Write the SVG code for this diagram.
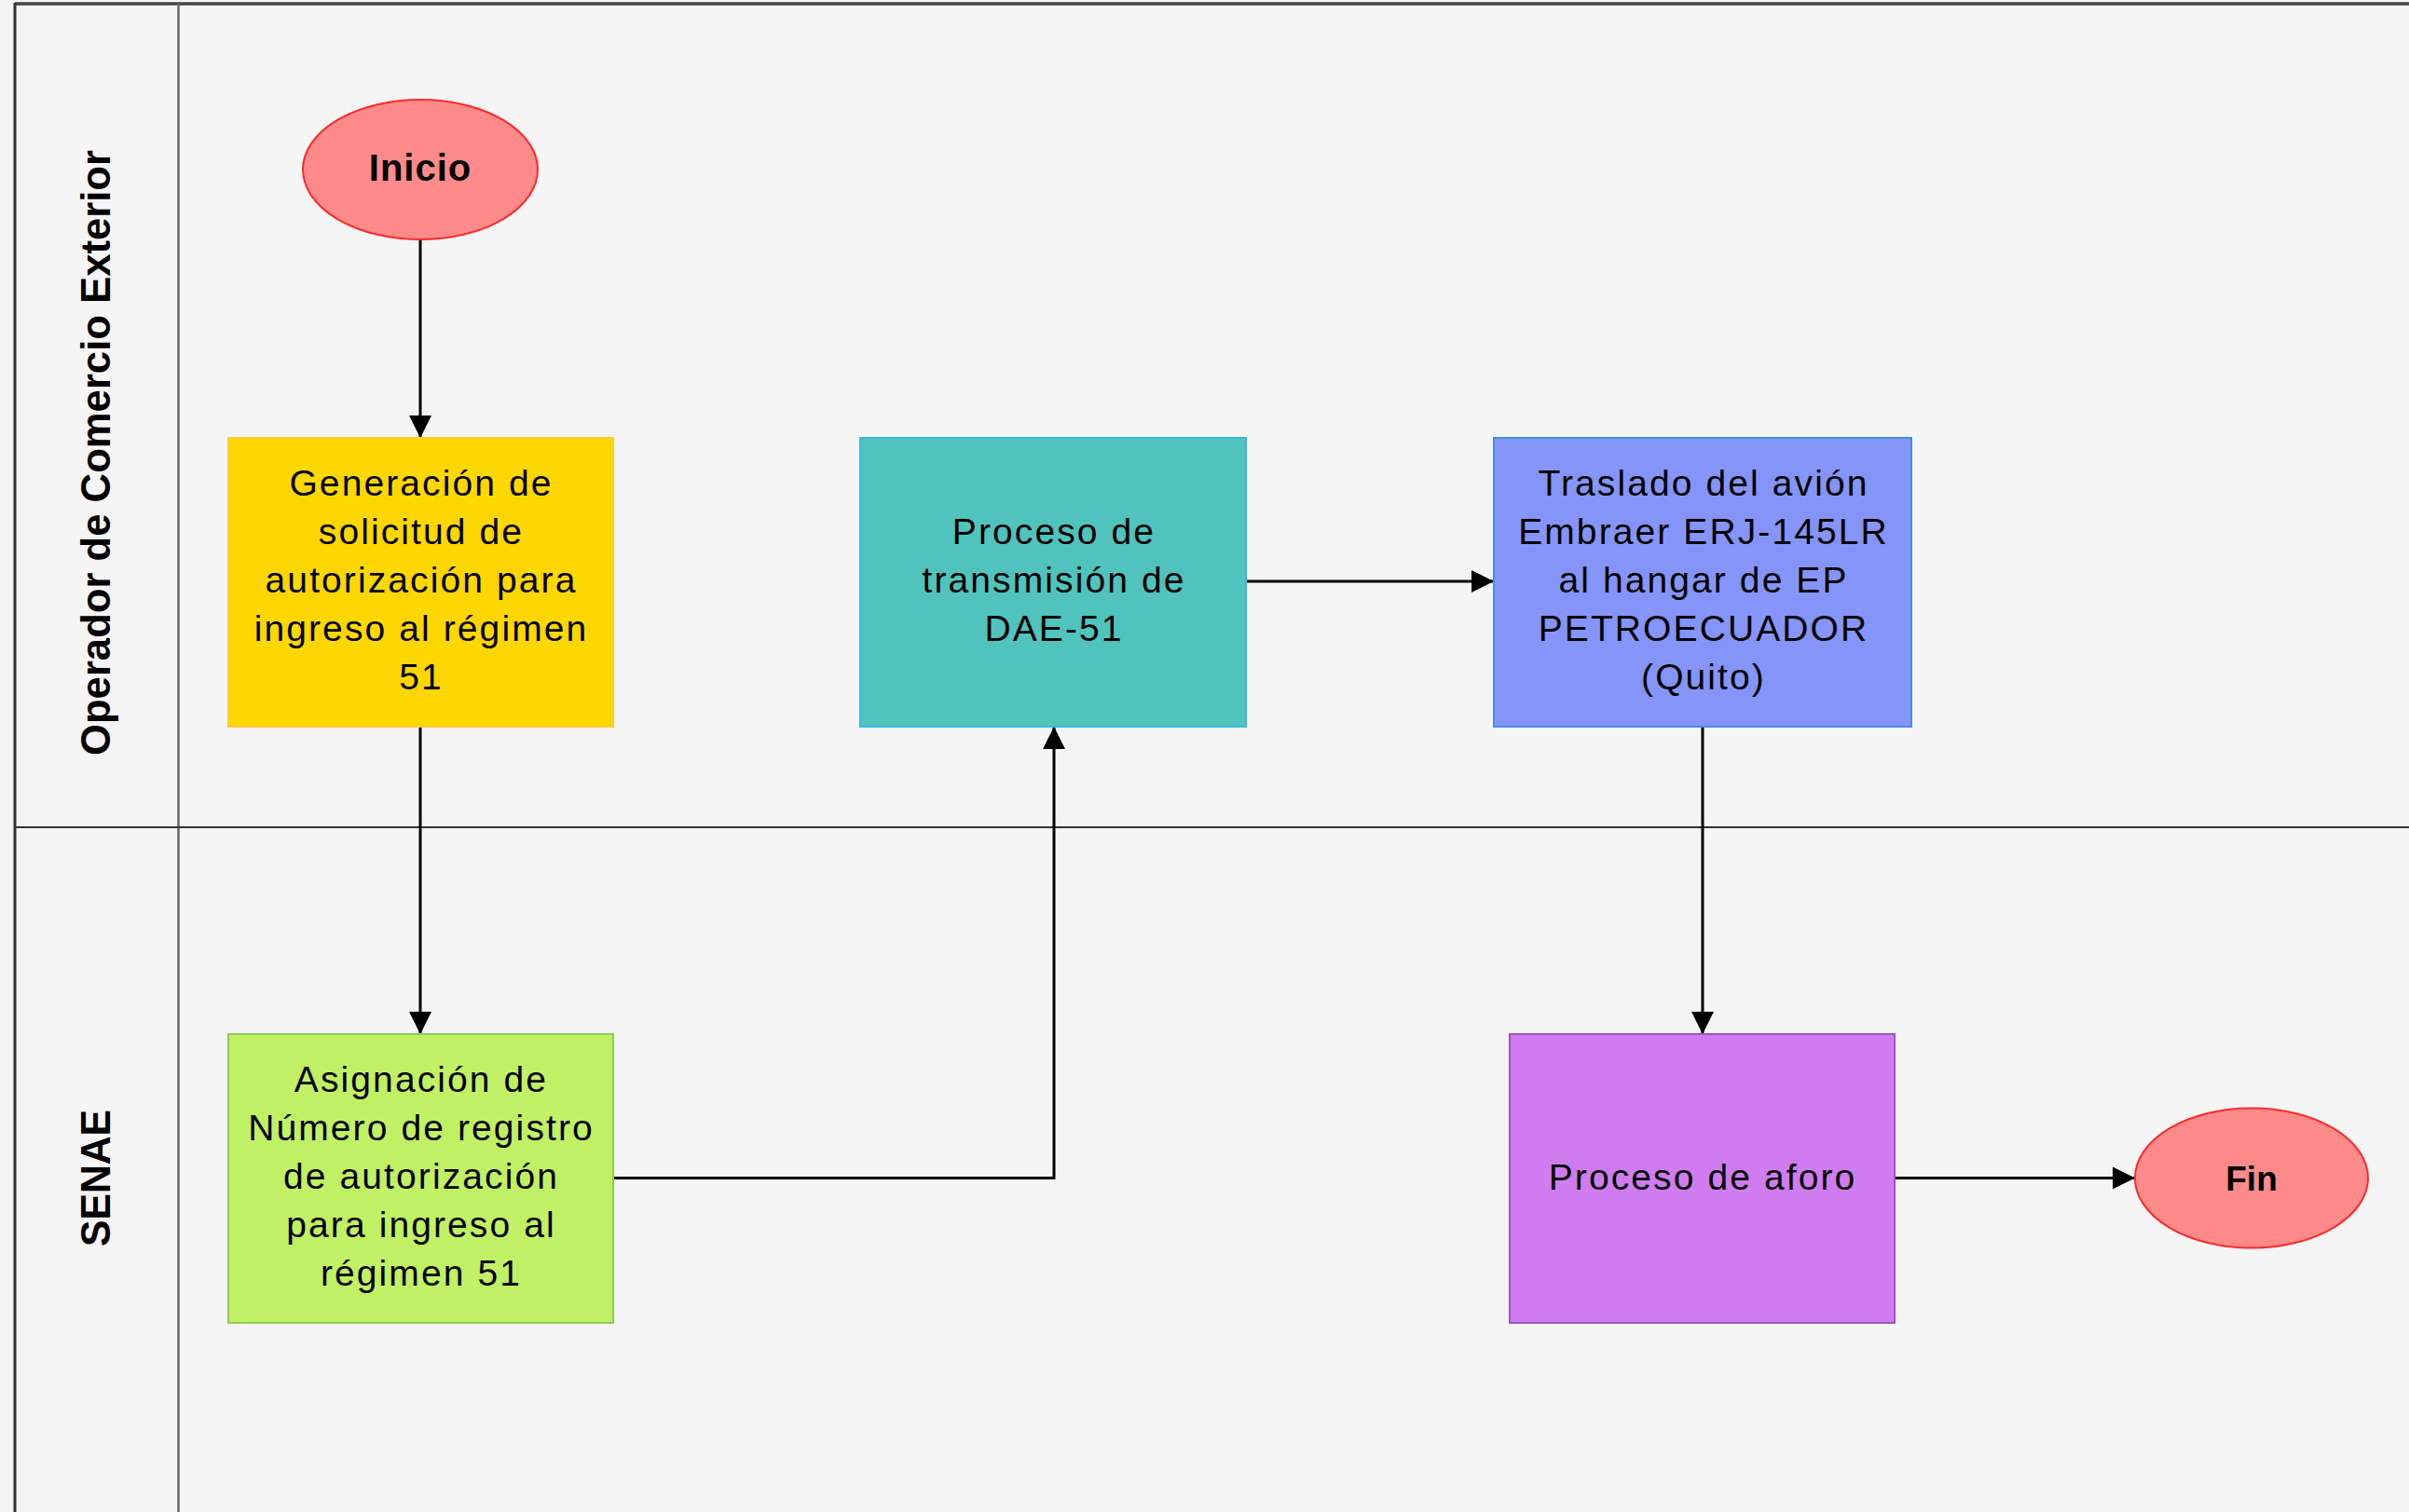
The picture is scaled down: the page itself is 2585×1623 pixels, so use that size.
<svg xmlns="http://www.w3.org/2000/svg" width="2585" height="1623" viewBox="0 0 2585 1623">
  <style>
    .t { font-family: "Liberation Sans", Arial, sans-serif; font-size: 39px; letter-spacing: 2.1px; fill: #000; text-anchor: middle; }
    .b { font-family: "Liberation Sans", Arial, sans-serif; font-weight: bold; fill: #000; text-anchor: middle; }
    .lane { font-family: "Liberation Sans", Arial, sans-serif; font-weight: bold; font-size: 45px; fill: #000; text-anchor: middle; }
    .c { fill: none; stroke: #000; stroke-width: 3; }
  </style>
  <defs>
    <marker id="arr" markerUnits="userSpaceOnUse" markerWidth="26" markerHeight="24" refX="24" refY="12" orient="auto">
      <path d="M0,0 L24,12 L0,24 Z" fill="#000"/>
    </marker>
  </defs>

  <rect x="0" y="0" width="2585" height="1623" fill="#f5f5f5"/>

  <g id="lanes">
    <line x1="16" y1="4" x2="2585" y2="4" stroke="#444" stroke-width="3.5"/>
    <line x1="16" y1="3" x2="16" y2="1623" stroke="#333" stroke-width="3"/>
    <line x1="191.5" y1="4" x2="191.5" y2="1623" stroke="#666" stroke-width="2.5"/>
    <line x1="16" y1="888" x2="2585" y2="888" stroke="#333" stroke-width="1.8"/>
    <text class="lane" transform="translate(118,486) rotate(-90)" textLength="650" lengthAdjust="spacingAndGlyphs">Operador de Comercio Exterior</text>
    <text class="lane" transform="translate(118,1264.5) rotate(-90)" textLength="147" lengthAdjust="spacingAndGlyphs">SENAE</text>
  </g>

  <g id="connectors">
    <line class="c" x1="451" y1="257" x2="451" y2="470" marker-end="url(#arr)"/>
    <line class="c" x1="451" y1="780" x2="451" y2="1110" marker-end="url(#arr)"/>
    <polyline class="c" points="658,1264.5 1131,1264.5 1131,780" marker-end="url(#arr)"/>
    <line class="c" x1="1337" y1="624" x2="1603" y2="624" marker-end="url(#arr)"/>
    <line class="c" x1="1827" y1="780" x2="1827" y2="1110" marker-end="url(#arr)"/>
    <line class="c" x1="2033" y1="1264.5" x2="2291" y2="1264.5" marker-end="url(#arr)"/>
  </g>

  <g id="inicio">
    <ellipse cx="451" cy="182" rx="126" ry="75" fill="#ff8a8a" stroke="#ff2a2a" stroke-width="2"/>
    <text class="b" x="451" y="194" font-size="40" letter-spacing="1">Inicio</text>
  </g>

  <g id="generacion">
    <rect x="245" y="470" width="413" height="310" fill="#ffd700" stroke="#ffcc33" stroke-width="2"/>
    <text class="t" x="452" y="532">Generación de</text>
    <text class="t" x="452" y="584">solicitud de</text>
    <text class="t" x="452" y="636">autorización para</text>
    <text class="t" x="452" y="688">ingreso al régimen</text>
    <text class="t" x="452" y="740">51</text>
  </g>

  <g id="transmision">
    <rect x="923" y="470" width="414" height="310" fill="#4fc3bc" stroke="#3ab8e0" stroke-width="2"/>
    <text class="t" x="1131" y="584">Proceso de</text>
    <text class="t" x="1131" y="636">transmisión de</text>
    <text class="t" x="1131" y="688">DAE-51</text>
  </g>

  <g id="traslado">
    <rect x="1603" y="470" width="448" height="310" fill="#8494f8" stroke="#4a8ee0" stroke-width="2"/>
    <text class="t" x="1828" y="532">Traslado del avión</text>
    <text class="t" x="1828" y="584">Embraer ERJ-145LR</text>
    <text class="t" x="1828" y="636">al hangar de EP</text>
    <text class="t" x="1828" y="688">PETROECUADOR</text>
    <text class="t" x="1828" y="740">(Quito)</text>
  </g>

  <g id="asignacion">
    <rect x="245" y="1110" width="413" height="310" fill="#c0f064" stroke="#8fcc55" stroke-width="2"/>
    <text class="t" x="452" y="1172">Asignación de</text>
    <text class="t" x="452" y="1224">Número de registro</text>
    <text class="t" x="452" y="1276">de autorización</text>
    <text class="t" x="452" y="1328">para ingreso al</text>
    <text class="t" x="452" y="1380">régimen 51</text>
  </g>

  <g id="aforo">
    <rect x="1620" y="1110" width="413" height="310" fill="#d07cf0" stroke="#9a55c0" stroke-width="2"/>
    <text class="t" x="1827" y="1277">Proceso de aforo</text>
  </g>

  <g id="fin">
    <ellipse cx="2416" cy="1264.5" rx="125" ry="75" fill="#ff8a8a" stroke="#ff2a2a" stroke-width="2"/>
    <text class="b" x="2416" y="1278" font-size="37">Fin</text>
  </g>
</svg>
